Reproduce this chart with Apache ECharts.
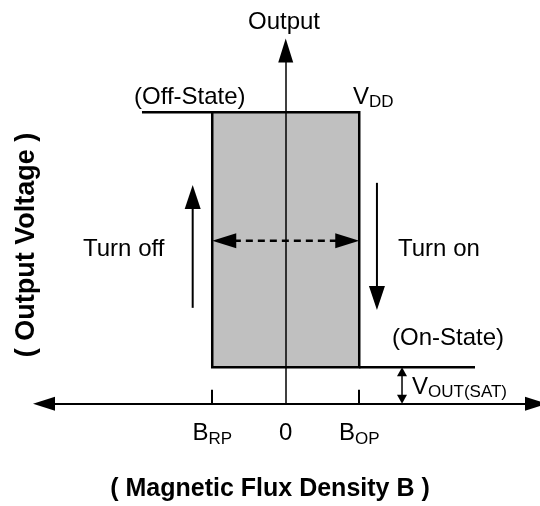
<!DOCTYPE html>
<html><head><meta charset="utf-8">
<script src="https://cdn.jsdelivr.net/npm/echarts@6/dist/echarts.min.js"></script>
<style>html,body{margin:0;padding:0;background:#fff}#c{width:540px;height:506px}</style>
</head><body><div id="c"></div>
<script>
// Magnetic flux density B, normalised so that B_RP = -1 and B_OP = +1
const bTickValues = [-1, 0, 1];
const bTickLabels = ['{b|B}{s|RP}', '{b|0}', '{b|B}{s|OP}'];
const bSwitchTicks = [-1, 1];
// Output voltage, normalised so that V_DD = 1
const vDD = 1;
const vSat = 0.125;
// hysteresis loop (B, V)
const loopB = [-1, -1, 1, 1];
const loopV = [vSat, vDD, vDD, vSat];
const offStateB = [-1.956, -1];
const offStateV = [vDD, vDD];
const onStateB = [1, 2.575];
const onStateV = [vSat, vSat];
// arrows: [B tail, V tail, B head, V head]
const turnOffArrow = [-1.266, 0.329, -1.266, 0.751];
const turnOnArrow = [1.241, 0.758, 1.241, 0.322];
const hystArrow = [-1, 0.559, 1, 0.559];
const satArrow = [1.582, 0, 1.582, vSat];

const FONT = '"Liberation Sans", Arial, sans-serif';

function arrowRenderer(headW, headL, both, dash, width) {
  return function (params, api) {
    const p0 = api.coord([api.value(0), api.value(1)]);
    const p1 = api.coord([api.value(2), api.value(3)]);
    const dx = p1[0] - p0[0], dy = p1[1] - p0[1];
    const len = Math.sqrt(dx * dx + dy * dy);
    const ux = dx / len, uy = dy / len;
    const px = -uy, py = ux;
    const head = (tip, sx) => [
      [tip[0], tip[1]],
      [tip[0] - sx * ux * headL + px * headW / 2, tip[1] - sx * uy * headL + py * headW / 2],
      [tip[0] - sx * ux * headL - px * headW / 2, tip[1] - sx * uy * headL - py * headW / 2]
    ];
    const a = both ? [p0[0] + ux * headL * 0.9, p0[1] + uy * headL * 0.9] : p0;
    const b = [p1[0] - ux * headL * 0.9, p1[1] - uy * headL * 0.9];
    const children = [{
      type: 'line',
      shape: { x1: a[0], y1: a[1], x2: b[0], y2: b[1] },
      style: { stroke: '#000', lineWidth: width, lineDash: dash }
    }, {
      type: 'polygon', shape: { points: head(p1, 1) }, style: { fill: '#000' }
    }];
    if (both) children.push({ type: 'polygon', shape: { points: head(p0, -1) }, style: { fill: '#000' } });
    return { type: 'group', children };
  };
}

const chart = echarts.init(document.getElementById('c'), null, { renderer: 'canvas' });
const textStyle = (t, x, y, align, extra) => Object.assign({
  type: 'text', x, y,
  style: Object.assign({ text: t, fill: '#000', font: '24px ' + FONT, align: align, verticalAlign: 'middle' }, extra || {})
});
const subRich = {
  n: { fontSize: 24, fontFamily: FONT, lineHeight: 28, color: '#000' },
  s: { fontSize: 17, fontFamily: FONT, lineHeight: 17, verticalAlign: 'bottom', color: '#000' }
};

chart.setOption({
  animation: false,
  backgroundColor: '#fff',
  grid: { left: 44, right: 4, top: 50.5, bottom: 102.3 },
  xAxis: {
    type: 'value', min: -3.289, max: 3.405, z: 10,
    splitLine: { show: false },
    axisLine: { show: true, onZero: true, symbol: ['triangle', 'triangle'], symbolSize: [14, 22], lineStyle: { color: '#000', width: 2 } },
    axisTick: { show: true, inside: true, length: 14, customValues: bSwitchTicks, lineStyle: { color: '#000', width: 2 } },
    axisLabel: {
      show: true, customValues: bTickValues, margin: 16,
      formatter: v => bTickLabels[bTickValues.indexOf(v)],
      rich: { b: subRich.n, s: subRich.s }
    }
  },
  yAxis: {
    type: 'value', min: 0, max: 1.2122, z: 10,
    splitLine: { show: false },
    axisLine: { show: true, onZero: true, symbol: ['none', 'triangle'], symbolSize: [15, 24], lineStyle: { color: '#000', width: 1.5 } },
    axisTick: { show: false },
    axisLabel: { show: false }
  },
  series: [
    {
      type: 'custom', name: 'loop', z: 2,
      data: [[loopB[0], loopV[0]]],
      renderItem: function (params, api) {
        const pts = loopB.map((b, i) => api.coord([b, loopV[i]]));
        return { type: 'polygon', shape: { points: pts }, style: { fill: '#c0c0c0', stroke: '#000', lineWidth: 2.5 } };
      }
    },
    {
      type: 'line', name: 'off', z: 3, symbol: 'none',
      data: offStateB.map((b, i) => [b, offStateV[i]]),
      lineStyle: { color: '#000', width: 2.5 }
    },
    {
      type: 'line', name: 'on', z: 3, symbol: 'none',
      data: onStateB.map((b, i) => [b, onStateV[i]]),
      lineStyle: { color: '#000', width: 2.5 }
    },
    { type: 'custom', z: 12, data: [turnOffArrow], renderItem: arrowRenderer(16, 24, false, null, 2) },
    { type: 'custom', z: 12, data: [turnOnArrow], renderItem: arrowRenderer(16, 24, false, null, 2) },
    { type: 'custom', z: 12, data: [hystArrow], renderItem: arrowRenderer(15, 24, true, [7, 5], 2.5) },
    { type: 'custom', z: 12, data: [satArrow], renderItem: arrowRenderer(10, 9, true, null, 1.5) }
  ],
  graphic: [
    textStyle('Output', 284, 22, 'center'),
    textStyle('(Off-State)', 134, 97, 'left'),
    textStyle('', 353, 97, 'left', { text: '{n|V}{s|DD}', rich: subRich }),
    textStyle('', 237, 195, 'left', { text: '{n|B}{s|HY}', rich: subRich }),
    textStyle('Turn off', 83, 249, 'left'),
    textStyle('Turn on', 398, 249, 'left'),
    textStyle('(On-State)', 392, 338, 'left'),
    textStyle('', 412, 387, 'left', { text: '{n|V}{s|OUT(SAT)}', rich: subRich }),
    textStyle('( Magnetic Flux Density B )', 270, 489, 'center', { font: 'bold 25px ' + FONT }),
    Object.assign(textStyle('( Output Voltage )', 27, 245, 'center', { font: 'bold 27px ' + FONT }), { rotation: Math.PI / 2 })
  ]
});
</script></body></html>
